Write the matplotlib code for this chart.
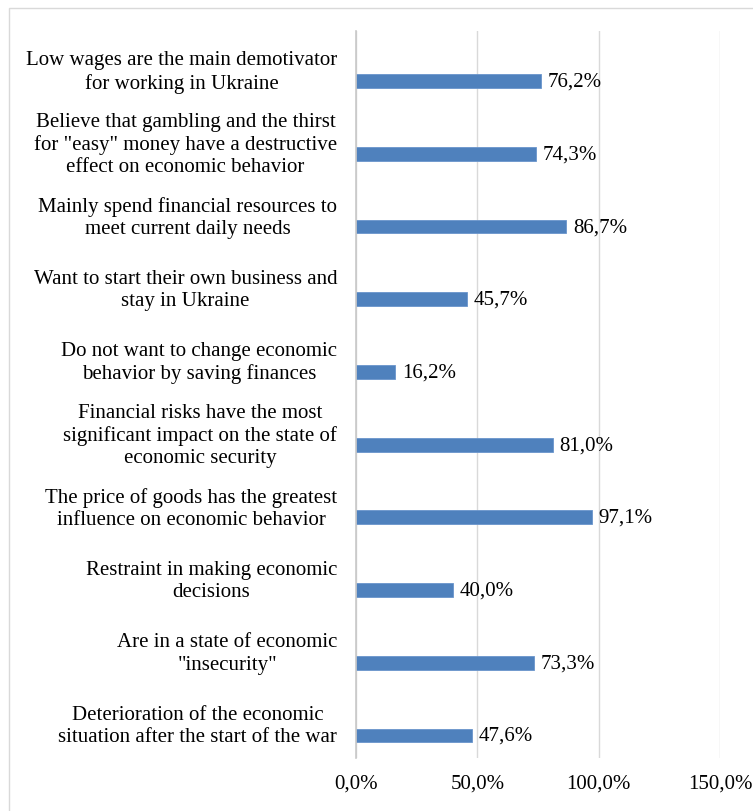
import matplotlib.pyplot as plt
from matplotlib.patches import Rectangle

# data
labels = [
    "Low wages are the main demotivator\nfor working in Ukraine",
    "Believe that gambling and the thirst\nfor \"easy\" money have a destructive\neffect on economic behavior",
    "Mainly spend financial resources to\nmeet current daily needs",
    "Want to start their own business and\nstay in Ukraine",
    "Do not want to change economic\nbehavior by saving finances",
    "Financial risks have the most\nsignificant impact on the state of\neconomic security",
    "The price of goods has the greatest\ninfluence on economic behavior",
    "Restraint in making economic\ndecisions",
    "Are in a state of economic\n\"insecurity\"",
    "Deterioration of the economic\nsituation after the start of the war",
]
values = [76.2, 74.3, 86.7, 45.7, 16.2, 81.0, 97.1, 40.0, 73.3, 47.6]
xticks = [0, 50, 100, 150]

plt.rcParams['font.family'] = ['Liberation Serif', 'DejaVu Serif']
fs = 15

fig = plt.figure(figsize=(7.53, 8.12), dpi=100)
ax = fig.add_axes([356 / 753, 1 - 759 / 812, (720 - 356) / 753, (759 - 32) / 812])

# outer chart border
fig.patches.append(Rectangle((9 / 753, -0.05), 1.2, 1 - 9 / 812 + 0.05,
                             transform=fig.transFigure, fill=False,
                             edgecolor='#D9D9D9', linewidth=1.0))

ypos = list(range(len(values)))
offset = 0.19
bars = ax.barh([y + offset for y in ypos], values, height=0.19,
               color='#4F81BD', edgecolor='#6A95CC', linewidth=0.6, zorder=3)

for y, v in zip(ypos, values):
    ax.text(v + 2.8, y + offset, f"{v:.1f}%".replace('.', ','),
            va='center', ha='left', fontsize=fs, zorder=4)

ax.set_xlim(0, 150)
ax.set_ylim(len(values) - 0.5, -0.5)
ax.set_xticks(xticks)
ax.set_xticklabels([f"{t:.1f}%".replace('.', ',') for t in xticks], fontsize=fs)
ax.set_yticks(ypos)
ax.set_yticklabels(labels, fontsize=fs, multialignment='center', linespacing=1.22)
ax.tick_params(axis='both', length=0)
ax.tick_params(axis='y', pad=13.5)
ax.tick_params(axis='x', pad=11)

ax.grid(axis='x', color='#D9D9D9', linewidth=1.0, zorder=0)
for s in ['top', 'right', 'bottom']:
    ax.spines[s].set_visible(False)
ax.spines['left'].set_color('#C8C8C8')
ax.spines['left'].set_linewidth(1.2)
ax.spines['left'].set_zorder(5)

fig.savefig('out.png', dpi=100)
